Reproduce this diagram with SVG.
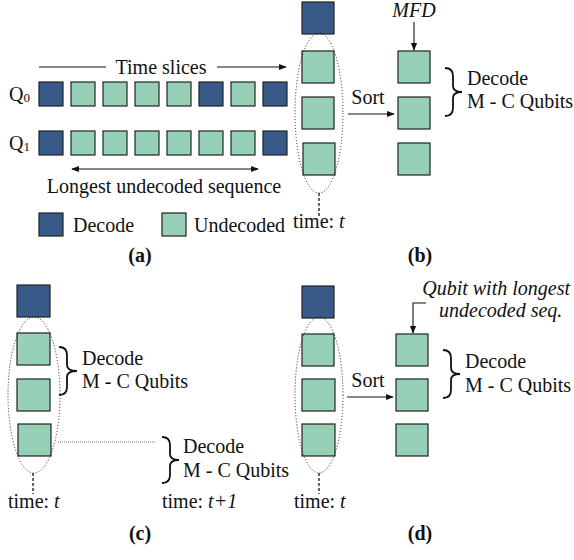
<svg xmlns="http://www.w3.org/2000/svg" width="574" height="560" viewBox="0 0 574 560">
<style>
text{font-family:'Liberation Serif','DejaVu Serif',serif;font-size:20px;fill:#111}
.d{fill:#385A89;stroke:#222;stroke-width:1.2}
.u{fill:#96D0B6;stroke:#222;stroke-width:1.2}
.ln{stroke:#111;stroke-width:1.1;fill:none}
.dot{stroke:#222;stroke-width:1;stroke-dasharray:1 2;fill:none}
.dash{stroke:#111;stroke-width:1.3;stroke-dasharray:3 2;fill:none}
.br{stroke:#111;stroke-width:1.8;fill:none}
.i{font-style:italic}
.b{font-weight:bold}
</style>
<defs>
<marker id="ah" viewBox="0 0 10 10" refX="9" refY="5" markerWidth="7" markerHeight="7" orient="auto-start-reverse"><path d="M0,1 L10,5 L0,9 z" fill="#111"/></marker>
</defs>

<!-- (a) -->
<text x="9" y="101">Q<tspan font-size="13" dy="1">0</tspan></text>
<text x="9" y="150">Q<tspan font-size="13" dy="1">1</tspan></text>
<g id="a-q0-1"><rect class="d" x="39" y="82" width="24" height="24"/></g>
<g id="a-q0-2"><rect class="u" x="71" y="82" width="24" height="24"/></g>
<g id="a-q0-3"><rect class="u" x="103" y="82" width="24" height="24"/></g>
<g id="a-q0-4"><rect class="u" x="135" y="82" width="24" height="24"/></g>
<g id="a-q0-5"><rect class="u" x="167" y="82" width="24" height="24"/></g>
<g id="a-q0-6"><rect class="d" x="199" y="82" width="24" height="24"/></g>
<g id="a-q0-7"><rect class="u" x="231" y="82" width="24" height="24"/></g>
<g id="a-q0-8"><rect class="d" x="263" y="82" width="24" height="24"/></g>
<g id="a-q1-1"><rect class="d" x="39" y="131" width="24" height="24"/></g>
<g id="a-q1-2"><rect class="u" x="71" y="131" width="24" height="24"/></g>
<g id="a-q1-3"><rect class="u" x="103" y="131" width="24" height="24"/></g>
<g id="a-q1-4"><rect class="u" x="135" y="131" width="24" height="24"/></g>
<g id="a-q1-5"><rect class="u" x="167" y="131" width="24" height="24"/></g>
<g id="a-q1-6"><rect class="u" x="199" y="131" width="24" height="24"/></g>
<g id="a-q1-7"><rect class="u" x="231" y="131" width="24" height="24"/></g>
<g id="a-q1-8"><rect class="d" x="263" y="131" width="24" height="24"/></g>
<text x="161" y="74" text-anchor="middle">Time slices</text>
<text x="164" y="193" text-anchor="middle">Longest undecoded sequence</text>
<g id="legend-decode"><rect class="d" x="39" y="213" width="24" height="23"/><text x="73" y="232">Decode</text></g>
<g id="legend-undecoded"><rect class="u" x="162" y="213" width="24" height="23"/><text x="194" y="232">Undecoded</text></g>
<text x="140" y="262" text-anchor="middle" class="b">(a)</text>

<!-- (b) -->
<g id="b-c-0"><rect class="d" x="302" y="2" width="32" height="32"/></g>
<g id="b-c-1"><rect class="u" x="302" y="51" width="32" height="32"/></g>
<g id="b-c-2"><rect class="u" x="302" y="97" width="32" height="32"/></g>
<g id="b-c-3"><rect class="u" x="303" y="143" width="32" height="32"/></g>
<g id="b-s-1"><rect class="u" x="398" y="51" width="32" height="32"/></g>
<g id="b-s-2"><rect class="u" x="398" y="97" width="32" height="32"/></g>
<g id="b-s-3"><rect class="u" x="398" y="143" width="32" height="32"/></g>
<text x="368" y="104" text-anchor="middle">Sort</text>
<text x="414" y="17" text-anchor="middle" class="i">MFD</text>
<text x="293" y="228">time: <tspan class="i">t</tspan></text>
<text x="467" y="85">Decode</text>
<text x="467" y="108">M - C Qubits</text>
<text x="420" y="262" text-anchor="middle" class="b">(b)</text>

<!-- (c) -->
<g id="c-c-0"><rect class="d" x="17" y="285" width="33" height="32"/></g>
<g id="c-c-1"><rect class="u" x="17" y="333" width="33" height="32"/></g>
<g id="c-c-2"><rect class="u" x="17" y="379" width="33" height="32"/></g>
<g id="c-c-3"><rect class="u" x="18" y="424" width="33" height="32"/></g>
<text x="82" y="365">Decode</text>
<text x="82" y="388">M - C Qubits</text>
<text x="183" y="453">Decode</text>
<text x="183" y="477">M - C Qubits</text>
<text x="8" y="508">time: <tspan class="i">t</tspan></text>
<text x="162" y="508">time: <tspan class="i">t+1</tspan></text>
<text x="140" y="540" text-anchor="middle" class="b">(c)</text>

<!-- (d) -->
<g id="d-c-0"><rect class="d" x="302" y="286" width="32" height="32"/></g>
<g id="d-c-1"><rect class="u" x="302" y="334" width="32" height="32"/></g>
<g id="d-c-2"><rect class="u" x="302" y="379" width="33" height="32"/></g>
<g id="d-c-3"><rect class="u" x="302" y="424" width="33" height="32"/></g>
<g id="d-s-1"><rect class="u" x="396" y="334" width="32" height="32"/></g>
<g id="d-s-2"><rect class="u" x="396" y="379" width="32" height="32"/></g>
<g id="d-s-3"><rect class="u" x="396" y="424" width="32" height="32"/></g>
<text x="368" y="387" text-anchor="middle">Sort</text>
<text x="570" y="295" text-anchor="end" class="i">Qubit with longest</text>
<text x="439" y="317" class="i">undecoded seq.</text>
<text x="465" y="368">Decode</text>
<text x="465" y="392">M - C Qubits</text>
<text x="294" y="508">time: <tspan class="i">t</tspan></text>
<text x="420" y="540" text-anchor="middle" class="b">(d)</text>

<g id="connectors">
<line class="ln" x1="39" y1="67" x2="106" y2="67"/>
<line class="ln" x1="217" y1="67" x2="286" y2="67" marker-end="url(#ah)"/>
<line class="ln" x1="72" y1="169" x2="258" y2="169" marker-start="url(#ah)" marker-end="url(#ah)"/>
<ellipse class="dot" cx="319" cy="113" rx="24" ry="80"/>
<line class="dash" x1="319" y1="193" x2="319" y2="218"/>
<line class="ln" x1="348" y1="114" x2="394" y2="114" marker-end="url(#ah)"/>
<line class="ln" x1="414" y1="22" x2="414" y2="50" marker-end="url(#ah)"/>
<path class="br" d="M445,68 Q453,68 453,76 L453,86 Q453,92 462,92 Q453,92 453,98 L453,108 Q453,116 445,116"/>
<ellipse class="dot" cx="34" cy="395" rx="26" ry="78"/>
<line class="dash" x1="33" y1="473" x2="33" y2="494"/>
<path class="br" d="M59,347 Q67,347 67,355 L67,365 Q67,371 77,371 Q67,371 67,377 L67,387 Q67,395 59,395"/>
<line x1="58" y1="442" x2="155" y2="442" stroke="#777" stroke-width="1" stroke-dasharray="1 1"/>
<path class="br" d="M162,437 Q170,437 170,445 L170,454 Q170,460 179,460 Q170,460 170,466 L170,475 Q170,483 162,483"/>
<ellipse class="dot" cx="319" cy="395" rx="24" ry="78"/>
<line class="dash" x1="319" y1="473" x2="319" y2="494"/>
<line class="ln" x1="347" y1="397" x2="393" y2="397" marker-end="url(#ah)"/>
<polyline class="ln" points="426,303 413,303 413,333" marker-end="url(#ah)"/>
<path class="br" d="M443,350 Q451,350 451,358 L451,368 Q451,374 460,374 Q451,374 451,380 L451,390 Q451,398 443,398"/>
</g>
</svg>
